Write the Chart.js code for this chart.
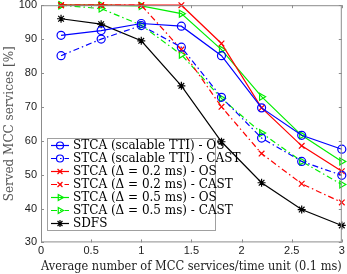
<!DOCTYPE html>
<html>
<head>
<meta charset="utf-8">
<script src="https://cdn.jsdelivr.net/npm/chart.js@4/dist/chart.umd.min.js"></script>
<style>
  html, body { margin: 0; padding: 0; background: #fff; }
  #wrap { width: 347px; height: 274px; }
</style>
</head>
<body>
<div id="wrap"><canvas id="chart" width="347" height="274"></canvas></div>
<script>
// x values (average number of MCC services / time unit)
const load = [0.2, 0.6, 1.0, 1.4, 1.8, 2.2, 2.6, 3.0];

// served MCC services [%]
const scalableOS   = [91.1, 92.5, 94.6, 93.8, 85.1, 69.7, 61.6, 57.5];
const scalableCAST = [85.1, 90.0, 94.0, 87.6, 72.8, 60.8, 53.9, 49.8];
const d02OS        = [100, 100, 100, 100, 88.7, 69.7, 58.5, 51.0];
const d02CAST      = [100, 100, 100, 86.9, 70.0, 56.2, 47.3, 41.8];
const d05OS        = [100, 100, 99.8, 97.5, 86.9, 73.0, 61.6, 53.9];
const d05CAST      = [100, 99.0, 94.1, 85.4, 72.5, 62.3, 53.9, 47.1];
const sdfs         = [96.0, 94.4, 89.5, 76.2, 59.7, 47.6, 39.7, 35.0];

const xTicks = [0, 0.5, 1, 1.5, 2, 2.5, 3];
const yTicks = [30, 40, 50, 60, 70, 80, 90, 100];

const dashDot = [6, 3, 1.5, 3];
const serif = '"DejaVu Serif", serif';
const sans = '"Liberation Sans", Arial, sans-serif';

function pts(ys) {
  return ys.map((y, i) => ({ x: load[i], y: y }));
}

function series(label, ys, color, shape, dashed) {
  return {
    label: label,
    data: pts(ys),
    borderColor: color,
    backgroundColor: color,
    borderWidth: 1.2,
    borderDash: dashed ? dashDot : [],
    pointStyle: shape,
    pointRotation: shape === 'triangle' ? 90 : 0,
    pointRadius: 4,
    pointBorderWidth: 1.2,
    pointBackgroundColor: 'rgba(0,0,0,0)',
    pointBorderColor: color,
    tension: 0
  };
}

// inward ticks on all four sides + frame (MATLAB box style)
const boxTicks = {
  id: 'boxTicks',
  afterDraw(chart) {
    const { ctx, chartArea: a, scales } = chart;
    ctx.save();
    ctx.strokeStyle = '#8c8c8c';
    ctx.lineWidth = 1;
    ctx.strokeRect(a.left + 0.5, a.top + 0.5, a.right - a.left - 1, a.bottom - a.top - 1);
    ctx.beginPath();
    xTicks.forEach(v => {
      const px = Math.round(scales.x.getPixelForValue(v)) + 0.5;
      ctx.moveTo(px, a.bottom); ctx.lineTo(px, a.bottom - 3);
      ctx.moveTo(px, a.top); ctx.lineTo(px, a.top + 3);
    });
    yTicks.forEach(v => {
      const py = Math.round(scales.y.getPixelForValue(v)) + 0.5;
      ctx.moveTo(a.left, py); ctx.lineTo(a.left + 3, py);
      ctx.moveTo(a.right, py); ctx.lineTo(a.right - 3, py);
    });
    ctx.stroke();
    ctx.restore();
  }
};

// legend drawn inside the plot, lower left
const boxLegend = {
  id: 'boxLegend',
  afterDraw(chart) {
    const { ctx, chartArea: a } = chart;
    const x0 = a.left + 6, y0 = 138, w = 168, rowH = 13;
    const sets = chart.data.datasets;
    ctx.save();
    ctx.fillStyle = '#fff';
    ctx.fillRect(x0, y0, w, rowH * sets.length + 1);
    ctx.strokeStyle = '#a0a0a0';
    ctx.lineWidth = 1;
    ctx.strokeRect(x0 + 0.5, y0 + 0.5, w, rowH * sets.length + 1);
    ctx.font = '12px ' + serif;
    ctx.textBaseline = 'middle';
    sets.forEach((ds, i) => {
      const cy = y0 + 7.5 + i * rowH;
      ctx.strokeStyle = ds.borderColor;
      ctx.lineWidth = 1.2;
      ctx.setLineDash(ds.borderDash);
      ctx.beginPath();
      ctx.moveTo(x0 + 4, cy); ctx.lineTo(x0 + 22, cy);
      ctx.stroke();
      ctx.setLineDash([]);
      ctx.fillStyle = 'rgba(0,0,0,0)';
      Chart.helpers.drawPoint(ctx, {
        pointStyle: ds.pointStyle,
        rotation: ds.pointRotation,
        radius: 3.5,
        borderWidth: 1.2
      }, x0 + 13, cy);
      ctx.fillStyle = '#000';
      ctx.fillText(ds.label, x0 + 26, cy + 0.5);
    });
    ctx.restore();
  }
};

new Chart(document.getElementById('chart'), {
  type: 'line',
  data: {
    datasets: [
      series('STCA (scalable TTI) - OS', scalableOS, '#0000ff', 'circle', false),
      series('STCA (scalable TTI) - CAST', scalableCAST, '#0000ff', 'circle', true),
      series('STCA (\u0394 = 0.2 ms) - OS', d02OS, '#ff0000', 'crossRot', false),
      series('STCA (\u0394 = 0.2 ms) - CAST', d02CAST, '#ff0000', 'crossRot', true),
      series('STCA (\u0394 = 0.5 ms) - OS', d05OS, '#00ee00', 'triangle', false),
      series('STCA (\u0394 = 0.5 ms) - CAST', d05CAST, '#00ee00', 'triangle', true),
      series('SDFS', sdfs, '#000000', 'star', false)
    ]
  },
  options: {
    responsive: false,
    animation: false,
    clip: false,
    layout: { padding: { top: 4, right: 5, left: 3, bottom: 0 } },
    plugins: { legend: { display: false }, tooltip: { enabled: false } },
    scales: {
      x: {
        type: 'linear',
        min: 0, max: 3,
        afterBuildTicks(s) { s.ticks = xTicks.map(v => ({ value: v })); },
        grid: { display: false, drawTicks: false },
        border: { display: false },
        ticks: { color: '#222', font: { family: sans, size: 11 }, padding: 2, maxRotation: 0, callback: v => String(v) },
        title: { display: true, text: 'Average number of MCC services/time unit (0.1 ms)', color: '#222', font: { family: serif, size: 12 }, padding: 0 }
      },
      y: {
        min: 30, max: 100,
        afterBuildTicks(s) { s.ticks = yTicks.map(v => ({ value: v })); },
        afterFit(s) { s.width = 38; s.paddingTop = 0; },
        grid: { display: false, drawTicks: false },
        border: { display: false },
        ticks: { color: '#222', font: { family: sans, size: 11 }, padding: 4 },
        title: { display: true, text: 'Served MCC services [%]', color: '#555', font: { family: serif, size: 12 }, padding: 0 }
      }
    }
  },
  plugins: [boxTicks, boxLegend]
});
</script>
</body>
</html>
